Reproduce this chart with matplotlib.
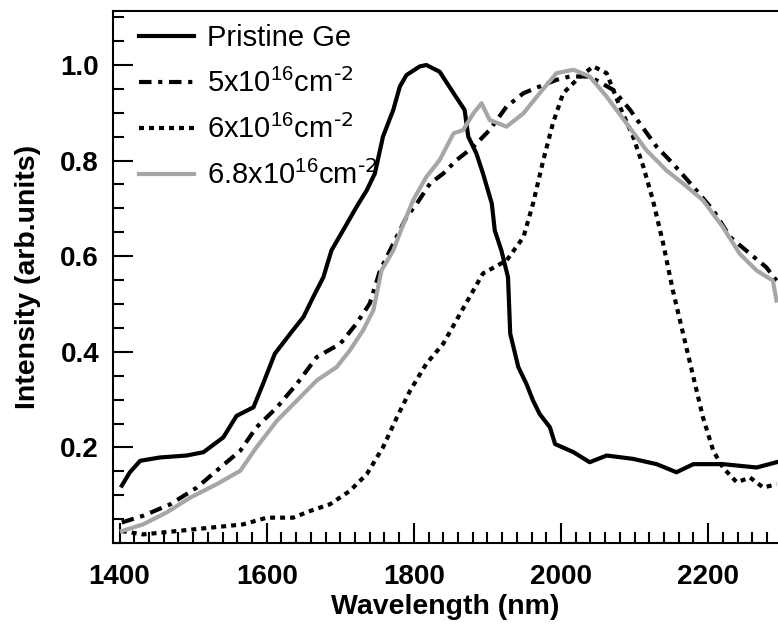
import matplotlib
matplotlib.use("Agg")
import matplotlib.pyplot as plt
from matplotlib.ticker import MultipleLocator

plt.rcParams["font.family"] = ["Liberation Sans", "DejaVu Sans"]
plt.rcParams["mathtext.default"] = "regular"

# data (wavelength in nm, normalised intensity)
wl_pristine = [1403, 1414, 1428, 1455, 1491, 1514, 1541, 1559, 1582, 1595, 1611,
               1632, 1650, 1663, 1677, 1688, 1709, 1722, 1736, 1747, 1758, 1772,
               1781, 1790, 1808, 1817, 1835, 1854, 1869, 1874, 1885, 1894, 1906,
               1910, 1919, 1928, 1931, 1942, 1953, 1962, 1971, 1985, 1992, 2017,
               2039, 2062, 2098, 2130, 2157, 2180, 2220, 2266, 2293]
i_pristine = [0.120, 0.148, 0.172, 0.179, 0.183, 0.190, 0.221, 0.266, 0.284, 0.333,
              0.396, 0.438, 0.473, 0.514, 0.556, 0.612, 0.668, 0.703, 0.738, 0.773,
              0.850, 0.906, 0.955, 0.979, 0.997, 1.000, 0.986, 0.941, 0.906, 0.850,
              0.815, 0.773, 0.710, 0.654, 0.612, 0.556, 0.438, 0.368, 0.333, 0.298,
              0.270, 0.242, 0.207, 0.190, 0.169, 0.183, 0.176, 0.165, 0.148, 0.165,
              0.165, 0.158, 0.169]

wl_5e16 = [1403, 1432, 1469, 1505, 1537, 1564, 1586, 1614, 1641, 1668, 1700, 1722,
           1740, 1754, 1772, 1790, 1804, 1822, 1840, 1858, 1881, 1903, 1926, 1949,
           1971, 1994, 2012, 2039, 2071, 2094, 2107, 2130, 2152, 2180, 2207, 2230,
           2257, 2279, 2293]
i_5e16 = [0.043, 0.057, 0.081, 0.116, 0.158, 0.193, 0.242, 0.284, 0.333, 0.389,
          0.417, 0.459, 0.501, 0.570, 0.626, 0.682, 0.710, 0.752, 0.773, 0.801,
          0.829, 0.864, 0.913, 0.941, 0.955, 0.969, 0.976, 0.976, 0.948, 0.906,
          0.878, 0.829, 0.794, 0.745, 0.696, 0.640, 0.605, 0.577, 0.549]

wl_6e16 = [1403, 1432, 1478, 1523, 1568, 1600, 1636, 1659, 1686, 1713, 1736, 1758,
           1777, 1795, 1817, 1840, 1863, 1894, 1926, 1949, 1962, 1976, 1989, 2003,
           2026, 2044, 2062, 2080, 2098, 2112, 2125, 2139, 2152, 2166, 2180, 2193,
           2207, 2220, 2239, 2257, 2275, 2293]
i_6e16 = [0.025, 0.018, 0.025, 0.032, 0.039, 0.053, 0.053, 0.067, 0.081, 0.109,
          0.144, 0.200, 0.263, 0.319, 0.375, 0.417, 0.480, 0.564, 0.591, 0.640,
          0.710, 0.801, 0.878, 0.941, 0.976, 0.997, 0.983, 0.913, 0.850, 0.787,
          0.717, 0.626, 0.529, 0.438, 0.347, 0.263, 0.193, 0.158, 0.127, 0.137,
          0.116, 0.123]

wl_68e16 = [1403, 1432, 1464, 1496, 1532, 1564, 1586, 1614, 1641, 1668, 1695, 1713,
            1731, 1745, 1756, 1772, 1786, 1799, 1817, 1835, 1854, 1867, 1881, 1892,
            1903, 1926, 1949, 1971, 1994, 2017, 2039, 2062, 2089, 2116, 2143, 2166,
            2193, 2220, 2243, 2266, 2288, 2293]
i_68e16 = [0.025, 0.039, 0.064, 0.095, 0.123, 0.151, 0.200, 0.256, 0.298, 0.340,
           0.368, 0.403, 0.445, 0.487, 0.570, 0.612, 0.668, 0.717, 0.766, 0.801,
           0.857, 0.864, 0.899, 0.920, 0.885, 0.871, 0.899, 0.941, 0.983, 0.990,
           0.976, 0.934, 0.878, 0.822, 0.780, 0.752, 0.717, 0.661, 0.605, 0.570,
           0.549, 0.507]

labels = ["Pristine Ge",
          r"5x10$^{16}$cm$^{\text{-2}}$",
          r"6x10$^{16}$cm$^{\text{-2}}$",
          r"6.8x10$^{16}$cm$^{\text{-2}}$"]

fig = plt.figure(figsize=(7.78, 6.24), dpi=100)
ax = fig.add_axes([0.1452, 0.1298, 0.8548, 0.8526])

ax.plot(wl_pristine, i_pristine, color="black", lw=3, label=labels[0])
ax.plot(wl_5e16, i_5e16, color="black", lw=3, dashes=(3, 1.6, 1, 1.6),
        dash_capstyle="butt", label=labels[1])
ax.plot(wl_6e16, i_6e16, color="black", lw=3, dashes=(1.2, 1.2),
        dash_capstyle="butt", label=labels[2])
ax.plot(wl_68e16, i_68e16, color="#a6a6a6", lw=3, label=labels[3])

ax.set_xlim(1391, 2295)
ax.set_ylim(0, 1.113)

ax.xaxis.set_major_locator(MultipleLocator(200))
ax.xaxis.set_minor_locator(MultipleLocator(20))
ax.yaxis.set_minor_locator(MultipleLocator(0.05))
ax.set_yticks([0.2, 0.4, 0.6, 0.8, 1.0])
ax.yaxis.set_major_formatter(matplotlib.ticker.FormatStrFormatter("%.1f"))

ax.tick_params(which="both", direction="in", width=1.5, top=False, right=False)
ax.tick_params(which="major", length=14.5, labelsize=20)
ax.tick_params(axis="y", which="major", pad=10)
ax.tick_params(axis="x", which="major", pad=15)
ax.tick_params(which="minor", length=8)
for lab in ax.get_xticklabels() + ax.get_yticklabels():
    lab.set_fontweight("bold")

for side in ["left", "bottom", "top"]:
    ax.spines[side].set_linewidth(1.5)
ax.spines["right"].set_visible(False)

ax.set_xlabel("Wavelength (nm)", fontsize=20.5, fontweight="bold", labelpad=3)
ax.set_ylabel("Intensity (arb.units)", fontsize=20.5, fontweight="bold", labelpad=14)

ax.legend(loc="upper left", frameon=False, fontsize=21, handlelength=1.9,
          handletextpad=0.45, labelspacing=0.55, borderaxespad=0.3,
          bbox_to_anchor=(0.008, 1.014))

fig.savefig("out.png", dpi=100)
